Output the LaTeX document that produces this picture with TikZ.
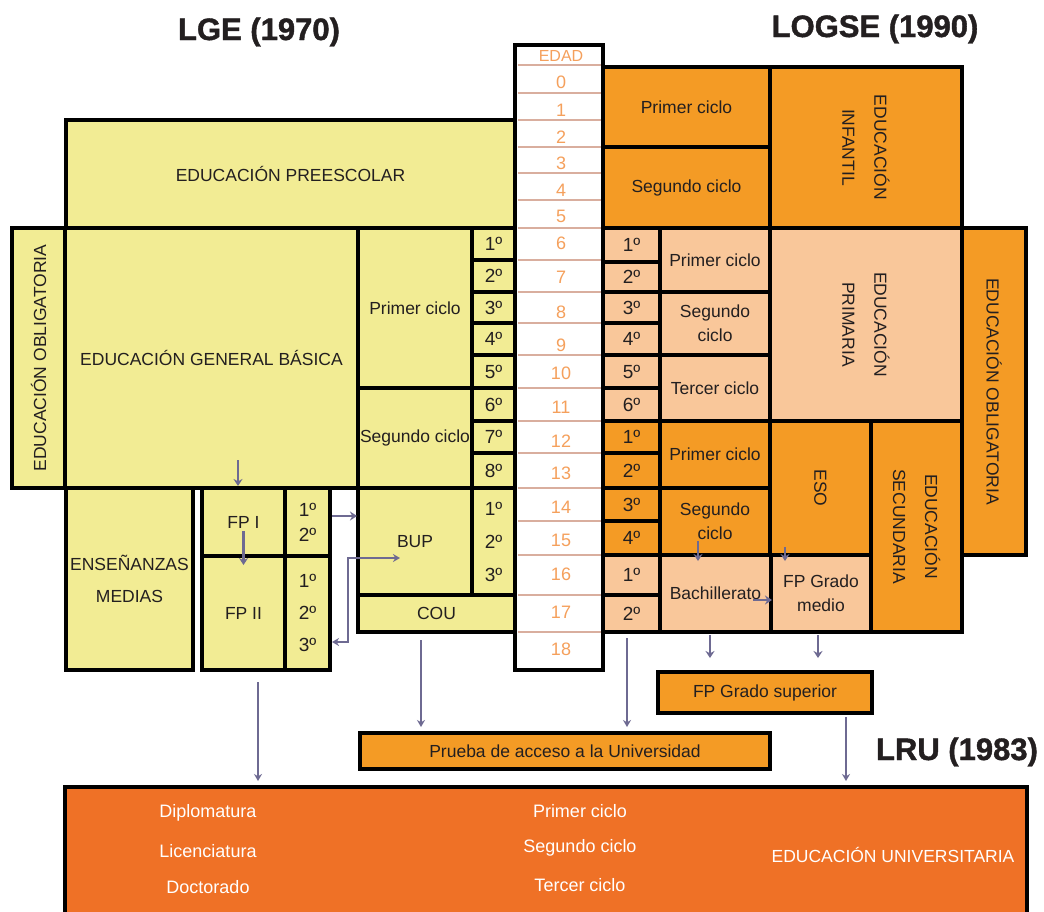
\documentclass[tikz,border=0pt]{standalone}
\usepackage{fontspec}
\setmainfont{Liberation Sans}
\newfontfamily\heavyfont[BoldFeatures={FakeBold=1.3}]{Liberation Sans}
\usetikzlibrary{arrows.meta,calc}
\definecolor{yel}{HTML}{F2EC94}
\definecolor{org}{HTML}{F49B25}
\definecolor{pch}{HTML}{F9C79A}
\definecolor{uni}{HTML}{EF7126}
\definecolor{agec}{HTML}{F5A05C}
\definecolor{sepc}{HTML}{D9AE9E}
\definecolor{arrc}{HTML}{6E6A92}
\definecolor{txt}{HTML}{231F20}
\newcommand\lblfont{\fontsize{17.5}{24}\selectfont}
\newcommand\eduBox[7][]{\node[boxst,#1,minimum width={(#5-#3)*1pt},minimum height={(#6-#4)*1pt}] (#2) at ({(#3+#5)/2},{(#4+#6)/2}) {#7};}
\tikzset{
  boxst/.style={rectangle,draw=black,line width=3.3pt,inner sep=0pt,outer sep=0pt,font=\lblfont,text=txt,align=center},
  lbl/.style={font=\lblfont,text=txt,align=center,inner sep=0pt},
  rlbl/.style={font=\fontsize{17.5}{32}\selectfont,text=txt,align=center,inner sep=0pt},
  crs/.style={font=\fontsize{19}{25}\selectfont},
  ttl/.style={font=\heavyfont\bfseries\fontsize{31}{36}\selectfont,text=txt,inner sep=0pt},
  agest/.style={font=\fontsize{18}{20}\selectfont,text=agec,inner sep=0pt},
  utext/.style={font=\fontsize{18}{24}\selectfont,text=white,inner sep=0pt},
  arr/.style={draw=arrc,line width=2.8pt,-{Stealth[length=7pt,width=9pt]}},
  arrt/.style={draw=arrc,line width=2pt,-{Stealth[length=7pt,width=8pt]}},
  sepl/.style={draw=sepc,line width=2.4pt},
}
\begin{document}
\begin{tikzpicture}[x=1pt,y=-1pt]
\useasboundingbox (0,0) rectangle (1044,911);
\clip (0,0) rectangle (1044,911);
\fill[white] (0,0) rectangle (1044,911);
% titles
\node[ttl] (tLGE) at (259,32) {LGE (1970)};
\node[ttl] (tLOGSE) at (875,29) {LOGSE (1990)};
\node[ttl] (tLRU) at (957,752) {LRU (1983)};
% ---------- LGE ----------
\eduBox[fill=yel]{pre}{66}{120}{515}{228}{EDUCACIÓN PREESCOLAR}
\eduBox[fill=yel]{oblL}{12}{228}{65}{488}{}
\node[lbl,rotate=90] (oblLt) at (oblL.center) {EDUCACIÓN OBLIGATORIA};
\eduBox[fill=yel]{egb}{65}{228}{358}{488}{EDUCACIÓN GENERAL BÁSICA}
\eduBox[fill=yel]{lp1}{358}{228}{472}{388}{Primer ciclo}
\eduBox[fill=yel]{lp2}{358}{388}{472}{488}{Segundo ciclo}
\foreach \i/\a/\b in {1/228/260,2/260/292,3/292/323,4/323/355,5/355/388,6/388/421,7/421/453,8/453/488}{
  \eduBox[fill=yel,crs]{lc\i}{472}{\a}{515}{\b}{{\i}º}
}
\eduBox[fill=yel]{em}{66}{488}{193}{670}{ENSEÑANZAS\\[8pt]MEDIAS}
\eduBox[fill=yel]{fp1}{202}{488}{285}{556}{FP I}
\eduBox[fill=yel,crs]{fp1c}{285}{488}{330}{556}{1º\\2º}
\eduBox[fill=yel]{fp2}{202}{556}{285}{670}{FP II}
\eduBox[fill=yel,crs]{fp2c}{285}{556}{330}{670}{1º\\[7pt]2º\\[7pt]3º}
\eduBox[fill=yel]{bup}{358}{488}{472}{595}{BUP}
\eduBox[fill=yel,crs]{bupc}{472}{488}{515}{595}{1º\\[8pt]2º\\[8pt]3º}
\eduBox[fill=yel]{cou}{358}{595}{515}{632}{COU}
% ---------- age column ----------
\eduBox[fill=white,line width=4pt]{agecol}{515}{45}{603}{670}{}
\foreach \y in {65,93,120,147,173,200,228,260,292,323,355,388,421,453,488,521,555,595,632}{
  \draw[sepl] (517.5,\y) -- (600.5,\y);
}
\node[agest,font=\fontsize{16}{18}\selectfont] (edad) at (561,56) {EDAD};
\foreach \n/\y in {0/82,1/110,2/137,3/163,4/190,5/216,6/243,7/277,8/312,9/345,10/373,11/407,12/441,13/473,14/507,15/540,16/574,17/612,18/649}{
  \node[agest] (age\n) at (561,\y) {\n};
}
% ---------- LOGSE ----------
\eduBox[fill=org]{i1}{603}{67}{770}{147}{Primer ciclo}
\eduBox[fill=org]{i2}{603}{147}{770}{228}{Segundo ciclo}
\eduBox[fill=org]{inf}{770}{67}{962}{228}{}
\node[rlbl,rotate=-90] (inft) at (inf.center) {EDUCACIÓN\\INFANTIL};
\foreach \i/\a/\b in {1/228/262,2/262/292,3/292/323,4/323/355,5/355/388,6/388/421}{
  \eduBox[fill=pch,crs]{pc\i}{603}{\a}{660}{\b}{{\i}º}
}
\eduBox[fill=pch]{pp1}{660}{228}{770}{292}{Primer ciclo}
\eduBox[fill=pch]{pp2}{660}{292}{770}{355}{Segundo\\ciclo}
\eduBox[fill=pch]{pp3}{660}{355}{770}{421}{Tercer ciclo}
\eduBox[fill=pch]{prim}{770}{228}{962}{421}{}
\node[rlbl,rotate=-90] (primt) at (prim.center) {EDUCACIÓN\\PRIMARIA};
\eduBox[fill=org]{oblR}{962}{228}{1026}{555}{}
\node[lbl,rotate=-90] (oblRt) at (oblR.center) {EDUCACIÓN OBLIGATORIA};
\foreach \i/\a/\b in {1/421/453,2/453/488,3/488/521,4/521/555}{
  \eduBox[fill=org,crs]{ec\i}{603}{\a}{660}{\b}{{\i}º}
}
\eduBox[fill=pch,crs]{bc1}{603}{555}{660}{595}{1º}
\eduBox[fill=pch,crs]{bc2}{603}{595}{660}{632}{2º}
\eduBox[fill=org]{ep1}{660}{421}{770}{488}{Primer ciclo}
\eduBox[fill=org]{ep2}{660}{488}{770}{555}{Segundo\\ciclo}
\eduBox[fill=pch]{bach}{660}{555}{771}{632}{Bachillerato}
\eduBox[fill=pch]{fpgm}{771}{555}{871}{632}{FP Grado\\medio}
\eduBox[fill=org]{eso}{770}{421}{871}{555}{}
\node[lbl,rotate=-90] (esot) at (eso.center) {ESO};
\eduBox[fill=org]{sec}{871}{421}{962}{632}{}
\node[rlbl,rotate=-90] (sect) at (sec.center) {EDUCACIÓN\\SECUNDARIA};
\eduBox[fill=org]{fpgs}{658}{672}{872}{713}{FP Grado superior}
\eduBox[fill=org]{prueba}{360}{733}{770}{769}{Prueba de acceso a la Universidad}
% ---------- university ----------
\eduBox[fill=uni]{univ}{65}{787}{1027}{940}{}
\node[utext] (dip) at (208,813) {Diplomatura};
\node[utext] (lic) at (208,851) {Licenciatura};
\node[utext] (doc) at (208,887) {Doctorado};
\node[utext] (uc1) at (580,811) {Primer ciclo};
\node[utext] (uc2) at (580,848) {Segundo ciclo};
\node[utext] (uc3) at (580,885) {Tercer ciclo};
\node[utext,font=\lblfont] (eu) at (893,855) {EDUCACIÓN UNIVERSITARIA};
% ---------- connectors ----------
\draw[arr] ($(fp1.north)+(-5.5,-28)$) -- ($(fp1.north)+(-5.5,-2)$);
\draw[arr] ($(fp1.center)+(0,9)$) -- ($(fp2.north)+(0,9)$);
\draw[arr] ($(fp1c.east)+(2,-6)$) -- ($(bup.west |- fp1c.east)+(-1,-6)$);
\draw[arrt,{Stealth[length=7pt,width=8pt]}-{Stealth[length=7pt,width=8pt]}] ($(fp2c.east)+(2,29)$) -- ++(16,0) |- ($(bup.west)+(42,16.5)$);
\draw[arrt] ($(fp2.south)+(14.5,12)$) -- ($(univ.north -| fp2.south)+(14.5,-6)$);
\draw[arrt] ($(cou.south)+(-15.5,8)$) -- ($(prueba.north -| cou.south)+(-15.5,-6)$);
\draw[arrt] ($(bc2.south)+(-4.5,6)$) -- ($(prueba.north -| bc2.south)+(-4.5,-6)$);
\draw[arr] ($(bach.south)+(-5.5,3)$) -- ($(fpgs.north -| bach.south)+(-5.5,-14)$);
\draw[arr] ($(fpgm.south)+(-3,3)$) -- ($(fpgs.north -| fpgm.south)+(-3,-14)$);
\draw[arrt] ($(fpgs.south)+(81,4)$) -- ($(univ.north -| fpgs.south)+(81,-6)$);
\draw[arr] ($(ep2.south)+(-17,-14)$) -- ($(bach.north -| ep2.south)+(-17,6)$);
\draw[arr] ($(eso.south)+(-35.5,-8)$) -- ($(fpgm.north -| eso.south)+(-35.5,6)$);
\draw[arr] ($(bach.east)+(-18,6.5)$) -- ($(fpgm.west |- bach.east)+(1,6.5)$);
\end{tikzpicture}
\end{document}
